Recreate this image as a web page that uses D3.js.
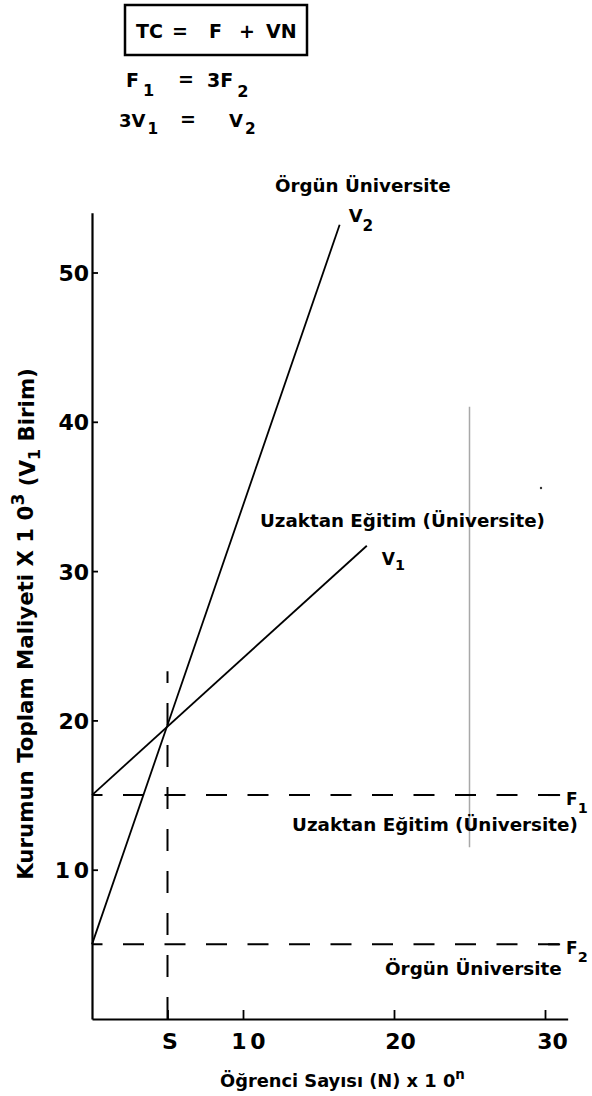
<!DOCTYPE html>
<html><head><meta charset="utf-8">
<script src="https://cdn.jsdelivr.net/npm/d3@7"></script>
<style>
body{margin:0;background:#fff}
svg{display:block}
text{font-family:"DejaVu Sans",sans-serif;font-weight:bold;fill:#000}
</style>
</head><body>
<svg id="c" width="592" height="1096"></svg>
<script>
// ---- data ----
const xTickValues = [5, 10, 20, 30];
const xTickLabels = ["S", "1 0", "20", "30"];
const yTickValues = [10, 20, 30, 40, 50];
const yTickLabels = ["1 0", "20", "30", "40", "50"];
const seriesNames = ["V1", "V2"];
const v1Points = [[0, 15], [18.2, 31.7]];
const v2Points = [[0, 5], [16.4, 53.2]];
const fixedNames = ["F1", "F2"];
const fixedValues = [15, 5];
const fixedEndN = 31;
const breakEvenN = 5;
const breakEvenTop = 23.3;
const greyLineN = 25;
const greyLineRange = [11.5, 41];

// ---- setup ----
const svg = d3.select("#c");
const x = d3.scaleLinear().domain([0, 31.5]).range([92, 92 + 31.5 * 15.1]);
const y = d3.scaleLinear().domain([0, 54]).range([1019, 1019 - 54 * 14.93]);

function fit(sel, w) {
  const bb = sel.node().getBBox();
  const fs = parseFloat(sel.attr("font-size"));
  sel.attr("font-size", fs * w / bb.width);
  return sel;
}

// ---- header formulas ----
svg.append("rect").attr("x", 125).attr("y", 5).attr("width", 182).attr("height", 50)
  .attr("fill", "none").attr("stroke", "#000").attr("stroke-width", 2.5);
const tcTokens = [["TC", 136], ["=", 172], ["F", 209], ["+", 239], ["VN", 266]];
tcTokens.forEach(([t, px]) => svg.append("text").attr("x", px).attr("y", 38).attr("font-size", 19).text(t));

function subText(px, py, main, sub, fs, subDx, subDy) {
  const t = svg.append("text").attr("x", px).attr("y", py).attr("font-size", fs);
  t.append("tspan").text(main);
  t.append("tspan").attr("dx", subDx).attr("dy", subDy).attr("font-size", "0.85em").text(sub);
  return t;
}
subText(126, 87, "F", "1", 19, 4, 9);
svg.append("text").attr("x", 178).attr("y", 86).attr("font-size", 19).text("=");
subText(207, 87, "3F", "2", 19, 4, 10);
subText(119, 127, "3V", "1", 18, 2, 7);
svg.append("text").attr("x", 180).attr("y", 126).attr("font-size", 19).text("=");
subText(229, 127, "V", "2", 18, 2, 7);

// ---- grey artefact line & dot ----
svg.append("line").attr("x1", x(greyLineN)).attr("x2", x(greyLineN))
  .attr("y1", y(greyLineRange[1])).attr("y2", y(greyLineRange[0]))
  .attr("stroke", "#a8a8a8").attr("stroke-width", 1.5);
svg.append("circle").attr("cx", 541).attr("cy", 488).attr("r", 1.2).attr("fill", "#333");

// ---- fixed-cost dashed lines ----
fixedValues.forEach((v, i) => {
  svg.append("line").attr("x1", x(0)).attr("x2", x(fixedEndN)).attr("y1", y(v)).attr("y2", y(v))
    .attr("stroke", "#000").attr("stroke-width", 2)
    .attr("stroke-dasharray", "21 20.5").attr("stroke-dashoffset", 10.5);
  svg.append("line").attr("x1", x(fixedEndN) - 12).attr("x2", x(fixedEndN)).attr("y1", y(v)).attr("y2", y(v))
    .attr("stroke", "#000").attr("stroke-width", 2);
});
// break-even vertical dashed line
svg.append("line").attr("x1", x(breakEvenN)).attr("x2", x(breakEvenN))
  .attr("y1", y(0)).attr("y2", y(breakEvenTop))
  .attr("stroke", "#000").attr("stroke-width", 2)
  .attr("stroke-dasharray", "22 20").attr("stroke-dashoffset", 0);

// ---- series lines ----
const line = d3.line().x(d => x(d[0])).y(d => y(d[1]));
[v1Points, v2Points].forEach(pts => {
  svg.append("path").attr("d", line(pts)).attr("fill", "none")
    .attr("stroke", "#000").attr("stroke-width", 1.8);
});

// ---- axes ----
const yAxis = d3.axisLeft(y).tickValues(yTickValues).tickFormat((d, i) => yTickLabels[i])
  .tickSizeInner(-6).tickSizeOuter(0).tickPadding(4);
const gy = svg.append("g").attr("transform", `translate(${x(0)},0)`).call(yAxis);
const xAxis = d3.axisBottom(x).tickValues(xTickValues).tickFormat((d, i) => xTickLabels[i])
  .tickSizeInner(-9).tickSizeOuter(0).tickPadding(14);
const gx = svg.append("g").attr("transform", `translate(0,${y(0)})`).call(xAxis);
[gx, gy].forEach(g => {
  g.select(".domain").attr("stroke", "#000").attr("stroke-width", 2.2);
  g.selectAll(".tick line").attr("stroke", "#000").attr("stroke-width", 1.8);
  g.selectAll(".tick text").attr("font-family", "DejaVu Sans").attr("font-weight", "bold")
    .attr("font-size", 22).attr("fill", "#000");
});
gy.selectAll(".tick text").attr("dy", "0.36em").attr("x", -3)
  .attr("word-spacing", d => d === 10 ? -4 : 0);
gx.selectAll(".tick text").attr("dx", (d, i) => [2, 5, 6, 7][i])
  .attr("word-spacing", d => d === 10 ? -4 : 0);

// ---- axis titles ----
const yt = svg.append("text").attr("transform", "translate(33,624) rotate(-90)")
  .attr("text-anchor", "middle").attr("font-size", 17);
yt.append("tspan").text("Kurumun Toplam Maliyeti X 1 0");
yt.append("tspan").attr("dy", "-0.5em").attr("font-size", "0.8em").text("3");
yt.append("tspan").attr("dy", "0.5em").text(" (V");
yt.append("tspan").attr("dy", "0.3em").attr("font-size", "0.75em").text("1");
yt.append("tspan").attr("dy", "-0.3em").text(" Birim)");
fit(yt, 512);

const xt = svg.append("text").attr("x", 220).attr("y", 1087).attr("font-size", 16);
xt.append("tspan").text("Öğrenci Sayısı (N) x 1 0");
xt.append("tspan").attr("dy", "-0.6em").attr("font-size", "0.75em").text("n");
fit(xt, 245);

// ---- annotations ----
fit(svg.append("text").attr("x", 275).attr("y", 192).attr("font-size", 16).text("Örgün Üniversite"), 176);
fit(svg.append("text").attr("x", 260).attr("y", 527).attr("font-size", 16).text("Uzaktan Eğitim (Üniversite)"), 285);
fit(svg.append("text").attr("x", 292).attr("y", 831).attr("font-size", 16).text("Uzaktan Eğitim (Üniversite)"), 286);
fit(svg.append("text").attr("x", 385).attr("y", 975).attr("font-size", 16).text("Örgün Üniversite"), 177);

// series end labels
subText(x(v2Points[1][0]) + 9, y(v2Points[1][1]) - 3, "V", "2", 18, 0, 9);
subText(x(v1Points[1][0]) + 15, y(v1Points[1][1]) + 19, "V", "1", 17, 0, 5);
// fixed-cost labels
fixedValues.forEach((v, i) => {
  subText(x(fixedEndN) + 6, y(v) + 10, "F", fixedNames[i].slice(1), 17, 0, 8);
});
</script>
</body></html>
